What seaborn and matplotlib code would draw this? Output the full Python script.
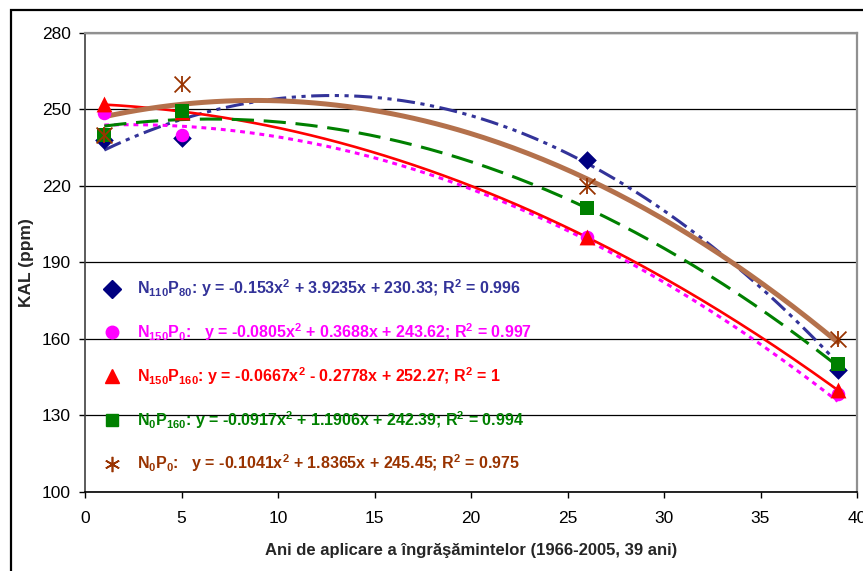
import numpy as np
import pandas as pd
import matplotlib
matplotlib.use("Agg")
import matplotlib.pyplot as plt
import seaborn as sns
from matplotlib.lines import Line2D
from matplotlib.patches import Rectangle

sns.set_style("white")
plt.rcParams['font.family'] = ['Liberation Sans', 'DejaVu Sans']
plt.rcParams['mathtext.fontset'] = 'custom'
plt.rcParams['mathtext.rm'] = 'Liberation Sans:bold'
plt.rcParams['mathtext.it'] = 'Liberation Sans:bold'
plt.rcParams['mathtext.bf'] = 'Liberation Sans:bold'
plt.rcParams['mathtext.default'] = 'rm'
plt.rcParams['lines.scale_dashes'] = False

# ---- data ----
years = [1, 5, 26, 39]
series_names = ["N110P80", "N150P0", "N150P160", "N0P160", "N0P0"]
kal_N110P80 = [238, 239, 230, 148]
kal_N150P0 = [248.5, 240, 200, 138.5]
kal_N150P160 = [252, 249, 200, 140]
kal_N0P160 = [240, 249.5, 211.5, 150]
kal_N0P0 = [240, 260, 220, 160]

# polynomial trend coefficients (a, b, c) as printed on the chart
coef_N110P80 = [-0.153, 3.9235, 230.33]
coef_N150P0 = [-0.0805, 0.3688, 243.62]
coef_N150P160 = [-0.0667, -0.2778, 252.27]
coef_N0P160 = [-0.0917, 1.1906, 242.39]
coef_N0P0 = [-0.1041, 1.8365, 245.45]

labels = [
    r"$\mathrm{N_{110}P_{80}}$: y = -0.153x$^2$ + 3.9235x + 230.33; R$^2$ = 0.996",
    r"$\mathrm{N_{150}P_{0}}$:   y = -0.0805x$^2$ + 0.3688x + 243.62; R$^2$ = 0.997",
    r"$\mathrm{N_{150}P_{160}}$: y = -0.0667x$^2$ - 0.2778x + 252.27; R$^2$ = 1",
    r"$\mathrm{N_{0}P_{160}}$: y = -0.0917x$^2$ + 1.1906x + 242.39; R$^2$ = 0.994",
    r"$\mathrm{N_{0}P_{0}}$:   y = -0.1041x$^2$ + 1.8365x + 245.45; R$^2$ = 0.975",
]
x_ticks = [0, 5, 10, 15, 20, 25, 30, 35, 40]
y_ticks = [100, 130, 160, 190, 220, 250, 280]

values = [kal_N110P80, kal_N150P0, kal_N150P160, kal_N0P160, kal_N0P0]
coefs = [coef_N110P80, coef_N150P0, coef_N150P160, coef_N0P160, coef_N0P0]

marker_colors = ["#000080", "#FF00FF", "#FF0000", "#008000", "#993300"]
text_colors = ["#333399", "#FF00FF", "#FF0000", "#008000", "#993300"]
line_colors = ["#333399", "#FF00FF", "#FF0000", "#008000", "#B4714C"]
line_styles = [(0, (13, 4, 3, 4, 3, 4)), (0, (3.5, 3.5)), "-", (0, (16, 7)), "-"]
line_widths = [2.2, 2.2, 1.9, 2.2, 3.6]
markers = ["D", "o", "^", "s", "x"]
msizes = [90, 95, 130, 100, 130]

fig = plt.figure(figsize=(8.63, 5.71), dpi=100)
ax = fig.add_axes([85 / 863, 1 - 492 / 571, (857 - 85) / 863, (492 - 33) / 571])

xgrid = np.linspace(years[0], years[-1], 200)
for i in range(5):
    yfit = np.polyval(coefs[i], xgrid)
    sns.lineplot(x=xgrid, y=yfit, ax=ax, color=line_colors[i], lw=line_widths[i],
                 linestyle=line_styles[i], zorder=3, legend=False)

for i in range(5):
    if markers[i] == "x":
        sns.scatterplot(x=years, y=values[i], ax=ax, marker="x", s=msizes[i],
                        color=marker_colors[i], linewidth=1.3, zorder=4, legend=False)
        sns.scatterplot(x=years, y=values[i], ax=ax, marker="|", s=msizes[i],
                        color=marker_colors[i], linewidth=1.3, zorder=4, legend=False)
    else:
        sns.scatterplot(x=years, y=values[i], ax=ax, marker=markers[i], s=msizes[i],
                        color=marker_colors[i], edgecolor=marker_colors[i], linewidth=0,
                        zorder=4, legend=False)

ax.set_xlim(0, 40)
ax.set_ylim(100, 280)
ax.set_xticks(x_ticks)
ax.set_yticks(y_ticks)
ax.tick_params(axis='both', labelsize=12.5, length=4, width=1, direction='out',
               colors='black', left=True, bottom=True)
ax.tick_params(axis='y', pad=6)
ax.tick_params(axis='x', pad=10)
ax.grid(axis='y', color='black', lw=0.9)
ax.grid(axis='x', visible=False)
for s in ['top', 'right']:
    ax.spines[s].set_color('#909090')
    ax.spines[s].set_linewidth(1.6)
ax.spines['left'].set_color('#404040')
ax.spines['left'].set_linewidth(1.2)
ax.spines['bottom'].set_color('black')
ax.spines['bottom'].set_linewidth(1.2)

ax.set_xlabel("Ani de aplicare a îngrăşămintelor (1966-2005, 39 ani)", fontsize=12,
              fontweight='bold', labelpad=12)
ax.set_ylabel("KAL (ppm)", fontsize=12.5, fontweight='bold', labelpad=6)

# legend
handles = []
for i in range(5):
    if markers[i] == "x":
        h = Line2D([], [], marker=(6, 2, 0), linestyle='none', color=marker_colors[i],
                   markersize=11, markeredgewidth=1.2)
    else:
        h = Line2D([], [], marker=markers[i], linestyle='none', color=marker_colors[i],
                   markeredgecolor=marker_colors[i], markersize=9 if markers[i] != "^" else 10)
    handles.append(h)
leg = ax.legend(handles, labels, loc='upper left', bbox_to_anchor=(0.025, 0.467),
                frameon=False, prop={'weight': 'bold', 'size': 11.5},
                labelcolor=text_colors, handlelength=1.0, handletextpad=1.05,
                labelspacing=1.38, borderpad=0, borderaxespad=0)

fig.patches.append(Rectangle((11 / 863, -0.1), 1.2, 0.1 + 1 - 10 / 571, transform=fig.transFigure,
                             fill=False, edgecolor='black', lw=1.6))

fig.savefig("out.png", dpi=100)
